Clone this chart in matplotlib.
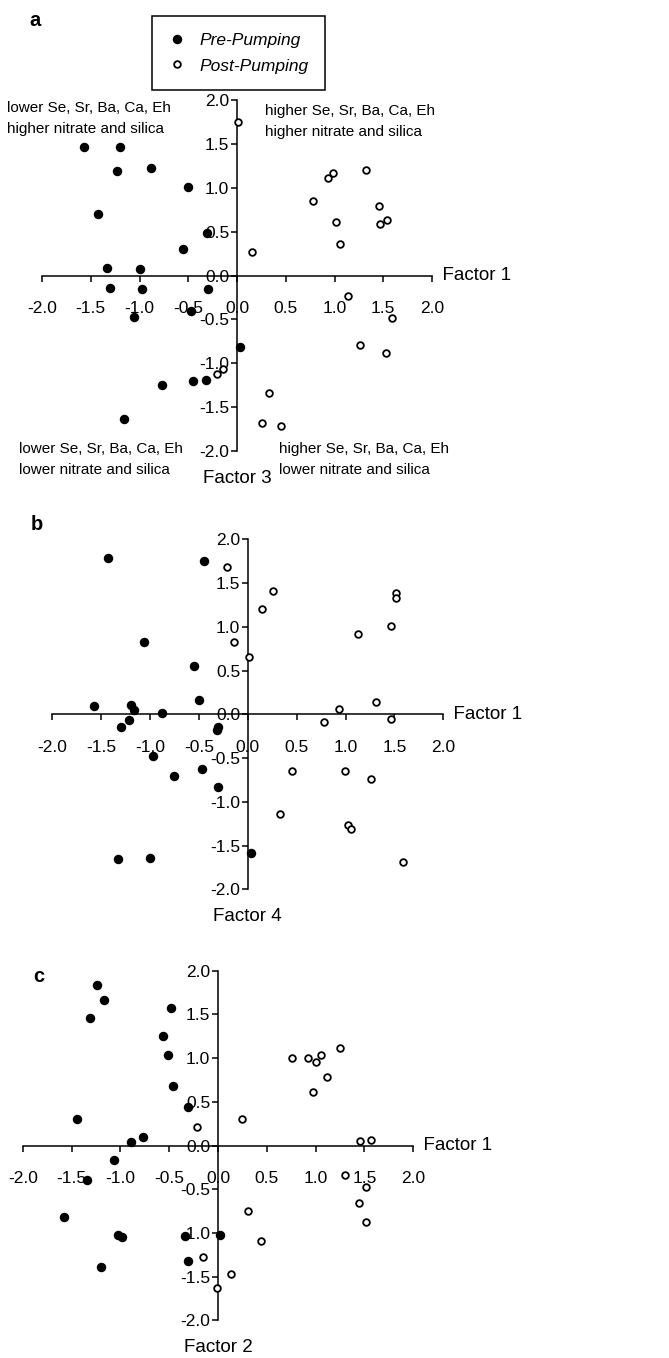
import matplotlib.pyplot as plt
from matplotlib.ticker import FormatStrFormatter, MultipleLocator

plt.rcParams['font.family'] = ['Liberation Sans', 'DejaVu Sans']

# panel a: Factor 1 vs Factor 3
a_pre_x = [-1.57, -1.20, -1.23, -0.88, -0.50, -1.43, -0.31, -0.55, -1.33, -1.00,
           -1.30, -0.97, -0.30, -0.47, -1.06, 0.03, -0.77, -0.45, -0.32, -1.16]
a_pre_y = [1.46, 1.46, 1.19, 1.23, 1.01, 0.70, 0.48, 0.30, 0.09, 0.07,
           -0.14, -0.15, -0.15, -0.40, -0.47, -0.81, -1.25, -1.20, -1.19, -1.64]
a_post_x = [0.01, 0.78, 0.93, 0.98, 1.32, 1.46, 1.02, 1.47, 1.54, 1.06,
            0.15, 1.14, 1.59, 1.26, 1.53, -0.14, -0.21, 0.33, 0.26, 0.45]
a_post_y = [1.75, 0.85, 1.11, 1.17, 1.20, 0.79, 0.61, 0.59, 0.63, 0.36,
            0.27, -0.23, -0.49, -0.79, -0.88, -1.07, -1.12, -1.34, -1.68, -1.72]

# panel b: Factor 1 vs Factor 4
b_pre_x = [-1.43, -0.45, -1.06, -0.55, -0.50, -1.57, -1.19, -1.16, -0.88, -1.22,
           -1.30, -0.30, -0.32, -0.97, -0.76, -0.47, -0.30, -1.33, -1.00, 0.03]
b_pre_y = [1.79, 1.75, 0.83, 0.55, 0.16, 0.10, 0.11, 0.05, 0.02, -0.06,
           -0.14, -0.14, -0.18, -0.48, -0.70, -0.63, -0.83, -1.65, -1.64, -1.58]
b_post_x = [-0.21, 0.26, 0.15, -0.14, 0.01, 1.52, 1.52, 1.46, 1.13, 1.31,
            0.93, 0.78, 1.46, 0.45, 0.99, 1.26, 0.33, 1.02, 1.06, 1.59]
b_post_y = [1.68, 1.41, 1.20, 0.83, 0.65, 1.39, 1.33, 1.01, 0.92, 0.14,
            0.06, -0.09, -0.05, -0.65, -0.65, -0.74, -1.14, -1.27, -1.31, -1.69]

# panel c: Factor 1 vs Factor 2
c_pre_x = [-1.24, -1.17, -1.31, -0.48, -0.56, -0.51, -0.46, -0.31, -1.44, -0.89,
           -0.77, -1.07, -1.34, -1.58, -1.02, -0.98, -0.34, 0.02, -0.31, -1.20]
c_pre_y = [1.84, 1.67, 1.46, 1.57, 1.25, 1.03, 0.68, 0.44, 0.30, 0.04,
           0.10, -0.17, -0.39, -0.82, -1.02, -1.05, -1.04, -1.02, -1.32, -1.39]
c_post_x = [-0.22, 0.25, 0.76, 0.92, 1.00, 1.05, 1.25, 1.12, 0.97, 1.45,
            1.57, 1.30, 1.52, 1.44, 1.52, 0.31, 0.44, -0.15, 0.13, -0.01]
c_post_y = [0.21, 0.30, 1.00, 1.00, 0.96, 1.04, 1.11, 0.78, 0.61, 0.05,
            0.06, -0.34, -0.47, -0.66, -0.87, -0.75, -1.09, -1.28, -1.47, -1.63]

W, H = 669, 1358
fig = plt.figure(figsize=(W / 100, H / 100), dpi=100)


def make_panel(rect, pre_x, pre_y, post_x, post_y, ylabel):
    ax = fig.add_axes(rect)
    ax.plot(pre_x, pre_y, 'o', color='black', markersize=5.8, clip_on=False, zorder=3)
    ax.plot(post_x, post_y, 'o', markerfacecolor='white', markeredgecolor='black',
            markersize=4.8, markeredgewidth=1.3, clip_on=False, zorder=3)
    ax.set_xlim(-2, 2)
    ax.set_ylim(-2, 2)
    for s in ['top', 'right']:
        ax.spines[s].set_visible(False)
    ax.spines['left'].set_position(('data', 0))
    ax.spines['bottom'].set_position(('data', 0))
    for s in ['left', 'bottom']:
        ax.spines[s].set_linewidth(1.1)
    ax.xaxis.set_major_locator(MultipleLocator(0.5))
    ax.yaxis.set_major_locator(MultipleLocator(0.5))
    ax.xaxis.set_major_formatter(FormatStrFormatter('%.1f'))
    ax.yaxis.set_major_formatter(FormatStrFormatter('%.1f'))
    ax.tick_params(axis='x', direction='out', length=4, width=1.1, pad=14.5, labelsize=12.5)
    ax.tick_params(axis='y', direction='out', length=4, width=1.1, pad=1.5, labelsize=12.5)
    ax.patch.set_visible(False)
    ax.text(1.0, 0.5, '  Factor 1', transform=ax.transAxes, ha='left', va='center',
            fontsize=13.5)
    ax.text(0.5, -0.077, ylabel, transform=ax.transAxes, ha='center', va='center',
            fontsize=13.5)
    return ax


def rect(x0, x1, y0, y1):
    return [x0 / W, 1 - y1 / H, (x1 - x0) / W, (y1 - y0) / H]


ax_a = make_panel(rect(42, 432, 100, 451), a_pre_x, a_pre_y, a_post_x, a_post_y, 'Factor 3')
ax_b = make_panel(rect(52.3, 443.3, 539.3, 889.3), b_pre_x, b_pre_y, b_post_x, b_post_y, 'Factor 4')
ax_c = make_panel(rect(22.7, 413.3, 970.7, 1320.3), c_pre_x, c_pre_y, c_post_x, c_post_y, 'Factor 2')

# panel letters
fig.text(35 / W, 1 - 20 / H, 'a', fontsize=14.5, fontweight='bold', ha='center', va='center')
fig.text(36.7 / W, 1 - 525 / H, 'b', fontsize=14.5, fontweight='bold', ha='center', va='center')
fig.text(39.3 / W, 1 - 977 / H, 'c', fontsize=14.5, fontweight='bold', ha='center', va='center')

# quadrant notes on panel a
notes = [
    (7, 110, 'lower Se, Sr, Ba, Ca, Eh\nhigher nitrate and silica'),
    (265, 113, 'higher Se, Sr, Ba, Ca, Eh\nhigher nitrate and silica'),
    (19, 451, 'lower Se, Sr, Ba, Ca, Eh\nlower nitrate and silica'),
    (279, 451, 'higher Se, Sr, Ba, Ca, Eh\nlower nitrate and silica'),
]
for x, y, t in notes:
    fig.text(x / W, 1 - (y - 9) / H, t, fontsize=11, ha='left', va='top', linespacing=1.65)

# legend
h1, = ax_a.plot([], [], 'o', color='black', markersize=5.8)
h2, = ax_a.plot([], [], 'o', markerfacecolor='white', markeredgecolor='black',
                markersize=4.8, markeredgewidth=1.3)
leg = fig.legend([h1, h2], ['Pre-Pumping', 'Post-Pumping'], loc='upper left',
                 bbox_to_anchor=(151.7 / W, 1 - 16 / H), borderaxespad=0,
                 prop={'style': 'italic', 'size': 12.5}, fancybox=False,
                 edgecolor='black', framealpha=1, handlelength=1.0,
                 handletextpad=0.78, borderpad=0.95, labelspacing=0.62)
leg.get_frame().set_linewidth(1.1)

fig.savefig('out.png', dpi=100)
